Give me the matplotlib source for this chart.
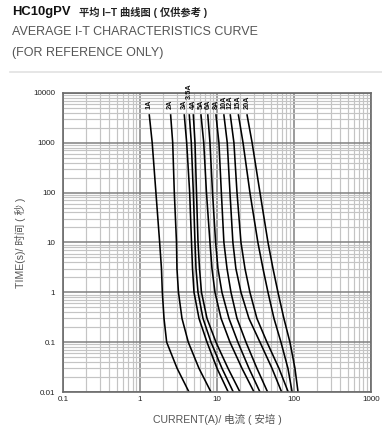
#!/usr/bin/env python3
# HC10gPV average I-T characteristic curves

import matplotlib
matplotlib.use("Agg")
import matplotlib.pyplot as plt
from matplotlib.lines import Line2D
import numpy as np

FONTS = ["Liberation Sans", "Noto Sans CJK SC", "DejaVu Sans"]
plt.rcParams["font.family"] = FONTS

# fuse ratings, in drawing order
RATINGS = ["1A", "2A", "3A", "3.5A", "4A", "5A", "6A", "8A", "10A", "12A", "15A", "20A"]

TIMES = [3600, 1000, 100, 10, 3, 1, 0.3, 0.1, 0.03, 0.01]

# current (A) of each curve at the TIMES above
CUR_1A = [1.32, 1.44, 1.61, 1.80, 1.90, 1.95, 2.05, 2.22, 3.03, 4.33]
CUR_2A = [2.50, 2.66, 2.79, 2.98, 3.02, 3.16, 3.51, 4.24, 5.83, 8.36]
CUR_3A = [3.76, 4.04, 4.42, 4.67, 4.81, 5.03, 5.84, 7.42, 10.0, 14.0]
CUR_35A = [4.37, 4.64, 4.93, 5.18, 5.34, 5.67, 6.58, 8.36, 11.6, 16.3]
CUR_4A = [4.93, 5.18, 5.42, 5.67, 5.93, 6.29, 7.42, 9.7, 13.9, 19.9]
CUR_5A = [6.2, 6.73, 7.3, 8.11, 8.61, 9.42, 11.3, 14.75, 21.1, 30.3]
CUR_6A = [7.6, 8.11, 8.75, 9.6, 10.3, 11.6, 14.3, 18.7, 26.0, 36.2]
CUR_8A = [9.7, 10.6, 11.4, 12.3, 13.5, 15.2, 18.2, 23.8, 33.0, 45.5]
CUR_10A = [12.3, 13.6, 14.75, 16.1, 17.6, 20.5, 26.0, 36.2, 51.8, 69.2]
CUR_12A = [14.9, 16.6, 18.2, 20.5, 23.1, 26.8, 33.0, 44.6, 63.8, 84.3]
CUR_15A = [19.0, 21.8, 26.8, 34.0, 39.6, 46.0, 55.0, 67.8, 83.5, 94.7]
CUR_20A = [24.6, 28.6, 36.2, 46.0, 53.4, 62.0, 74.0, 88.7, 103.0, 113.0]

CURVES = [CUR_1A, CUR_2A, CUR_3A, CUR_35A, CUR_4A, CUR_5A,
          CUR_6A, CUR_8A, CUR_10A, CUR_12A, CUR_15A, CUR_20A]

# time (s) at the foot of each rotated rating label; 3.5A sits higher, above 3A
LABEL_TIMES = [4700, 4700, 4700, 7400, 4700, 4700, 4700, 4700, 4700, 4700, 4700, 4700]

X_TICKS = [0.1, 1, 10, 100, 1000]
X_TICKLABELS = ["0.1", "1", "10", "100", "1000"]
Y_TICKS = [0.01, 0.1, 1, 10, 100, 1000, 10000]
Y_TICKLABELS = ["0.01", "0.1", "1", "10", "100", "1000", "10000"]

fig = plt.figure(figsize=(3.82, 4.28), dpi=100)
ax = fig.add_axes([0.165, 0.084, 0.806, 0.699])

ax.set_xscale("log")
ax.set_yscale("log")
ax.set_xlim(0.1, 1000)
ax.set_ylim(0.01, 10000)

# grid: light minor lines, darker decade lines
ax.grid(True, which="minor", color="#c4c4c4", linewidth=0.85)
ax.grid(True, which="major", color="#808080", linewidth=1.1)
ax.set_axisbelow(True)
ax.xaxis.set_minor_locator(matplotlib.ticker.LogLocator(base=10, subs=np.arange(2, 10), numticks=20))
ax.yaxis.set_minor_locator(matplotlib.ticker.LogLocator(base=10, subs=np.arange(2, 10), numticks=20))
ax.xaxis.set_minor_formatter(matplotlib.ticker.NullFormatter())
ax.yaxis.set_minor_formatter(matplotlib.ticker.NullFormatter())

for sp in ax.spines.values():
    sp.set_color("#6a6a6a")
    sp.set_linewidth(1.2)

ax.set_xticks(X_TICKS)
ax.set_xticklabels(X_TICKLABELS)
ax.set_yticks(Y_TICKS)
ax.set_yticklabels(Y_TICKLABELS)
ax.tick_params(which="both", length=0)
ax.tick_params(axis="x", labelsize=5.8, pad=3, colors="#222222")
ax.tick_params(axis="y", labelsize=5.8, pad=5.5, colors="#222222")

for name, cur, lt in zip(RATINGS, CURVES, LABEL_TIMES):
    ax.plot(cur, TIMES, color="black", linewidth=1.15, solid_joinstyle="round")
    ax.text(cur[0], lt, name, rotation=90, ha="center", va="bottom",
            fontsize=5.3, fontweight="bold", color="#111111", clip_on=False)

ax.set_xlabel("CURRENT(A)/ 电流 ( 安培 )", fontsize=7.6, color="#555555", labelpad=7.5)
ax.set_ylabel("TIME(s)/ 时间 ( 秒 )", fontsize=7.6, color="#555555", labelpad=5.5)

# heading
fig.text(0.031, 0.972, "HC10gPV", fontsize=9.4, fontweight="bold", color="#111111",
         va="center", ha="left")
fig.text(0.208, 0.972, "平均 I–T 曲线图 ( 仅供参考 )", fontsize=7.4, fontweight="bold",
         color="#222222", va="center", ha="left")
fig.text(0.031, 0.925, "AVERAGE I-T CHARACTERISTICS CURVE", fontsize=9, color="#555555",
         va="center", ha="left")
fig.text(0.031, 0.876, "(FOR REFERENCE ONLY)", fontsize=9, color="#555555",
         va="center", ha="left")
fig.add_artist(Line2D([0.026, 1.0], [0.831, 0.831], transform=fig.transFigure,
                      color="#e2e2e2", linewidth=1.2))

fig.savefig("out.png", dpi=100)
